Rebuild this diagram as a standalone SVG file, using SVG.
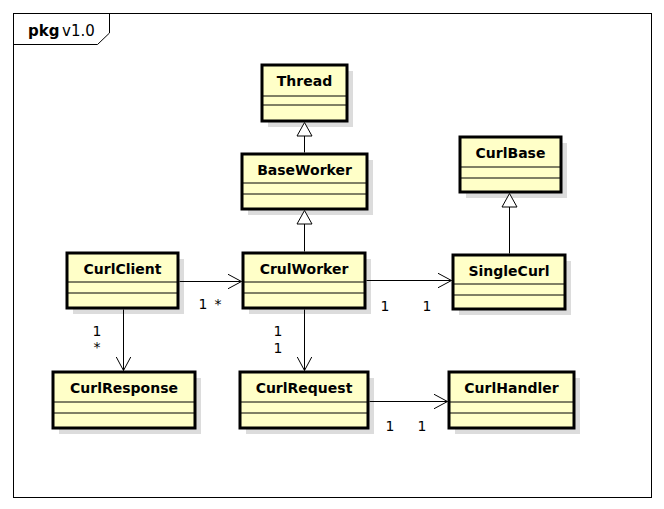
<svg xmlns="http://www.w3.org/2000/svg" width="664" height="509" viewBox="0 0 664 509">
<defs>
<style>
.frame{fill:none;stroke:#000;stroke-width:1}
.shadow{fill:#dcdcdc}
.box{fill:#ffffc8;stroke:#000;stroke-width:3}
.sep{stroke:#000;stroke-width:1}
.name{font-family:"DejaVu Sans",sans-serif;font-weight:bold;font-size:14px;text-anchor:middle;fill:#000}
.mult{font-family:"DejaVu Sans",sans-serif;font-size:14px;text-anchor:middle;fill:#000}
.edge{fill:none;stroke:#000;stroke-width:1}
.tri{fill:#fff;stroke:#000;stroke-width:1}
</style>
<marker id="open" viewBox="0 0 14 16" refX="14" refY="8" markerWidth="14" markerHeight="16" markerUnits="userSpaceOnUse" orient="auto">
<path d="M0,0.5 L14,8 L0,15.5" fill="none" stroke="#000" stroke-width="1"/>
</marker>
</defs>
<rect width="664" height="509" fill="#fff"/>
<g id="frame">
<rect class="frame" x="13.5" y="13.5" width="638" height="484"/>
<path class="frame" d="M13.5,44.5 H97.5 L109.5,33 V13.5"/>
<text x="28" y="36" font-family="DejaVu Sans,sans-serif" font-size="15" font-weight="bold">pkg</text>
<text x="62" y="36" font-family="DejaVu Sans,sans-serif" font-size="15">v1.0</text>
</g>
<g id="Thread">
<rect class="shadow" x="268" y="71" width="85" height="56"/>
<rect class="box" x="262" y="65" width="85" height="56"/>
<line class="sep" x1="262" y1="96" x2="347" y2="96"/>
<line class="sep" x1="262" y1="105" x2="347" y2="105"/>
<text class="name" x="304.5" y="86">Thread</text>
</g>
<g id="BaseWorker">
<rect class="shadow" x="248" y="160" width="125" height="55"/>
<rect class="box" x="242" y="154" width="125" height="55"/>
<line class="sep" x1="242" y1="183" x2="367" y2="183"/>
<line class="sep" x1="242" y1="194" x2="367" y2="194"/>
<text class="name" x="304.5" y="175">BaseWorker</text>
</g>
<g id="CurlBase">
<rect class="shadow" x="466" y="143" width="101" height="55"/>
<rect class="box" x="460" y="137" width="101" height="55"/>
<line class="sep" x1="460" y1="167" x2="561" y2="167"/>
<line class="sep" x1="460" y1="178" x2="561" y2="178"/>
<text class="name" x="510.5" y="158">CurlBase</text>
</g>
<g id="CurlClient">
<rect class="shadow" x="73" y="259" width="111" height="55"/>
<rect class="box" x="67" y="253" width="111" height="55"/>
<line class="sep" x1="67" y1="282" x2="178" y2="282"/>
<line class="sep" x1="67" y1="293" x2="178" y2="293"/>
<text class="name" x="122.5" y="274">CurlClient</text>
</g>
<g id="CrulWorker">
<rect class="shadow" x="249" y="259" width="122" height="55"/>
<rect class="box" x="243" y="253" width="122" height="55"/>
<line class="sep" x1="243" y1="282" x2="365" y2="282"/>
<line class="sep" x1="243" y1="293" x2="365" y2="293"/>
<text class="name" x="304" y="274">CrulWorker</text>
</g>
<g id="SingleCurl">
<rect class="shadow" x="459" y="261" width="112" height="54"/>
<rect class="box" x="453" y="255" width="112" height="54"/>
<line class="sep" x1="453" y1="284" x2="565" y2="284"/>
<line class="sep" x1="453" y1="295" x2="565" y2="295"/>
<text class="name" x="509" y="276">SingleCurl</text>
</g>
<g id="CurlResponse">
<rect class="shadow" x="59" y="378" width="142" height="56"/>
<rect class="box" x="53" y="372" width="142" height="56"/>
<line class="sep" x1="53" y1="402" x2="195" y2="402"/>
<line class="sep" x1="53" y1="413" x2="195" y2="413"/>
<text class="name" x="124" y="393">CurlResponse</text>
</g>
<g id="CurlRequest">
<rect class="shadow" x="246" y="378" width="128" height="56"/>
<rect class="box" x="240" y="372" width="128" height="56"/>
<line class="sep" x1="240" y1="402" x2="368" y2="402"/>
<line class="sep" x1="240" y1="413" x2="368" y2="413"/>
<text class="name" x="304" y="393">CurlRequest</text>
</g>
<g id="CurlHandler">
<rect class="shadow" x="455" y="378" width="125" height="56"/>
<rect class="box" x="449" y="372" width="125" height="56"/>
<line class="sep" x1="449" y1="402" x2="574" y2="402"/>
<line class="sep" x1="449" y1="413" x2="574" y2="413"/>
<text class="name" x="511.5" y="393">CurlHandler</text>
</g>
<g id="connectors">
<path class="edge" d="M304.5,136 V152.5"/>
<path class="tri" d="M304.5,122.5 L297,136 H312 Z"/>
<path class="edge" d="M304.5,224 V251.5"/>
<path class="tri" d="M304.5,210.5 L297,224 H312 Z"/>
<path class="edge" d="M509.5,207 V253.5"/>
<path class="tri" d="M509.5,193.5 L502,207 H517 Z"/>
<path class="edge" d="M179.5,281.5 H241.5" marker-end="url(#open)"/>
<path class="edge" d="M366.5,280.5 H451.5" marker-end="url(#open)"/>
<path class="edge" d="M123.5,309.5 V370.5" marker-end="url(#open)"/>
<path class="edge" d="M304.5,309.5 V370.5" marker-end="url(#open)"/>
<path class="edge" d="M369.5,401.5 H447.5" marker-end="url(#open)"/>
<text class="mult" x="203" y="309">1</text>
<text class="mult" x="218" y="309">*</text>
<text class="mult" x="385" y="311">1</text>
<text class="mult" x="427" y="311">1</text>
<text class="mult" x="97" y="336">1</text>
<text class="mult" x="97" y="352">*</text>
<text class="mult" x="278" y="336">1</text>
<text class="mult" x="278" y="353">1</text>
<text class="mult" x="390" y="431">1</text>
<text class="mult" x="422" y="431">1</text>
</g>
</svg>
